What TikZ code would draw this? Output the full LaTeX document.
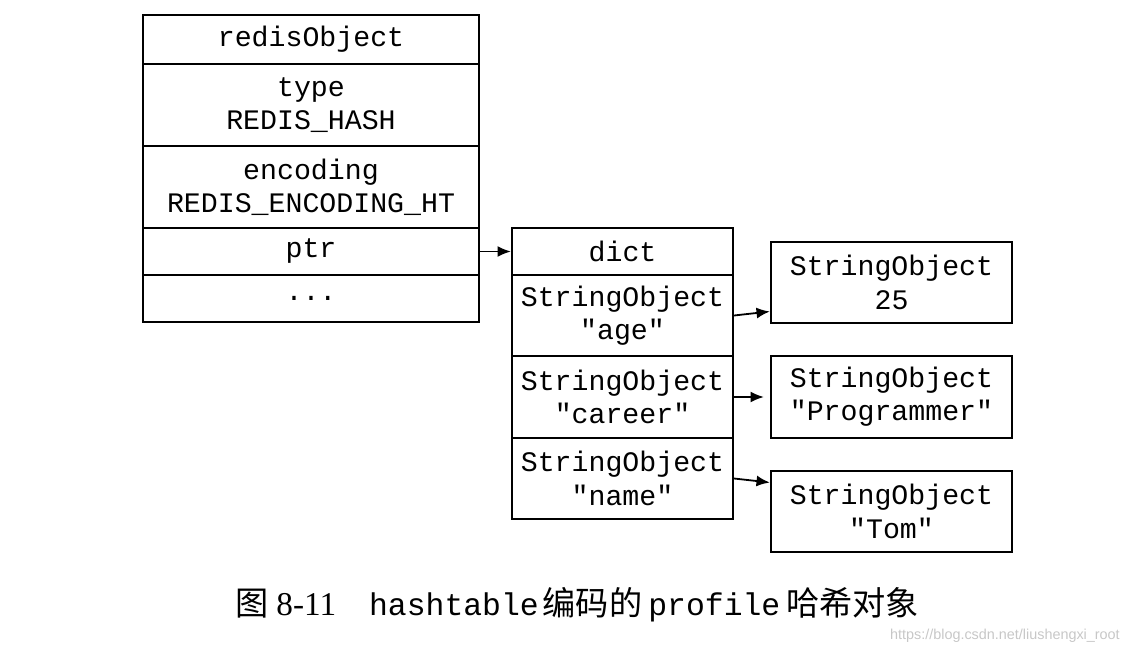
\documentclass[tikz,border=0pt]{standalone}
\usepackage{fontspec}
\setmainfont{Liberation Serif}
\setmonofont{Liberation Mono}
\newfontfamily\cjk{Noto Sans CJK SC}
\newfontfamily\wmark{Liberation Sans}
\usepackage{tikz}
\usetikzlibrary{arrows.meta}
\tikzset{>={Latex[width=2.8mm,length=3.4mm]}}
\tikzset{
  cell/.style={shape=rectangle,draw,line width=1.6pt,inner sep=0pt,align=center,
    font=\fontsize{20.4}{24}\selectfont\ttfamily},
  objcell/.style={cell,minimum width=3.36in},
  dictcell/.style={cell,minimum width=2.21in},
  valcell/.style={cell,minimum width=2.41in},
  link/.style={->,line width=1.3pt}
}

\begin{document}
\begin{tikzpicture}

\useasboundingbox (0in,0in) rectangle (11.3in,-6.54in);

% redisObject
\path (3.11in,-0.395in) node (obj) [objcell,minimum height=0.49in]{redisObject};
\path (3.11in,-1.05in) node (objtype) [objcell,minimum height=0.82in]{type\\REDIS\_HASH};
\path (3.11in,-1.87in) node (objenc) [objcell,minimum height=0.82in]{encoding\\REDIS\_ENCODING\_HT};
\path (3.11in,-2.515in) node (objptr) [objcell,minimum height=0.47in]{ptr};
\path (3.11in,-2.985in) node (objmore) [objcell,minimum height=0.47in]{...};

% dict
\path (6.225in,-2.515in) node (dict) [dictcell,minimum height=0.47in]{dict};
\path (6.225in,-3.155in) node (kage) [dictcell,minimum height=0.81in]{StringObject\\"age"};
\path (6.225in,-3.97in) node (kcareer) [dictcell,minimum height=0.82in]{StringObject\\"career"};
\path (6.225in,-4.785in) node (kname) [dictcell,minimum height=0.81in]{StringObject\\"name"};

% values
\path (8.915in,-2.825in) node (vage) [valcell,minimum height=0.81in]{StringObject\\25};
\path (8.915in,-3.97in) node (vcareer) [valcell,minimum height=0.82in]{StringObject\\"Programmer"};
\path (8.915in,-5.115in) node (vname) [valcell,minimum height=0.81in]{StringObject\\"Tom"};

\draw [link] (objptr.east) -- (dict.west);
\draw [link] (kage.east) -- ([yshift=0.04in]kage.east -| vage.west);
\draw [link] (kcareer.east) -- ([xshift=-0.06in]kcareer.east -| vcareer.west);
\draw [link] (kname.east) -- ([yshift=-0.04in]kname.east -| vname.west);

% caption
\path (2.35in,-6.05in) node (caption) [anchor=west,inner sep=0pt,font=\fontsize{24}{28}\selectfont]
  {{\cjk 图}\hspace{0.08in}8-11\hspace{0.33in}{\fontsize{22.7}{28}\selectfont\texttt{hashtable}}\hspace{0.04in}{\cjk 编码的}\hspace{0.06in}{\fontsize{22.7}{28}\selectfont\texttt{profile}}\hspace{0.06in}{\cjk 哈希对象}};
\path (11.2in,-6.36in) node (mark) [anchor=east,inner sep=0pt,text=black!22,
  font=\fontsize{10.4}{12}\selectfont\wmark]{https://blog.csdn.net/liushengxi\_root};

\end{tikzpicture}
\end{document}
